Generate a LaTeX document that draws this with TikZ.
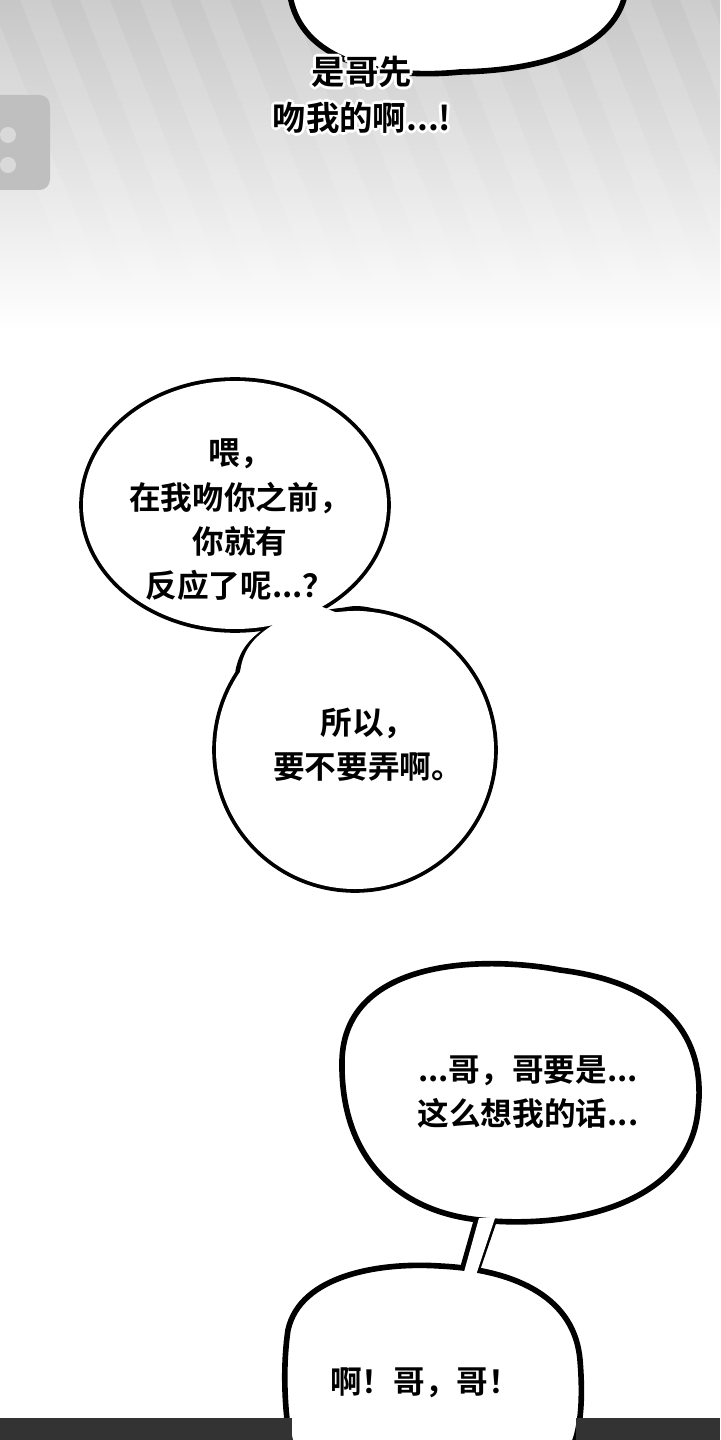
\documentclass[tikz,border=0pt]{standalone}
\usepackage{fontspec}
\newfontfamily\cjk{Noto Sans CJK SC Bold}
\tikzset{
  bubble/.style={draw=black, line width=1.6pt, fill=white},
  bubblefill/.style={fill=white},
  speech/.style={font=\cjk\fontsize{9}{12.6}\selectfont, align=center, inner sep=0pt},
  captionstyle/.style={font=\cjk\fontsize{9.5}{13}\selectfont, align=center, inner sep=0pt},
}
\begin{document}
\begin{tikzpicture}[x=0.01cm, y=-0.01cm]
    % page size
    \useasboundingbox (0,0) rectangle (720,1440);
    \fill[white] (0,0) rectangle (720,1440);

    % grey background at the top, fading out
    \shade[top color=black!22, bottom color=white] (0,0) rectangle (720,330);
    \foreach \i in {0,...,14}
        \fill[white, opacity=0.12] (\i*60-40,0) -- (\i*60-10,0) -- (\i*60+110,300) -- (\i*60+80,300) -- cycle;
    % device at the left
    \fill[black!25, rounded corners=3pt] (-10,95) rectangle (50,190);
    \fill[black!15] (8,135) circle (8);
    \fill[black!15] (8,165) circle (8);

    % top bubble, cut by the border
    \draw[bubble] (290,-5) .. controls (300,60) and (380,80) .. (460,72)
        .. controls (560,70) and (615,40) .. (625,-5);

    % caption with a white halo
    \foreach \dx/\dy in {-3/0,3/0,0/-3,0/3,-2/-2,2/2,-2/2,2/-2}
        \node[captionstyle, text=white] at (362+\dx,95+\dy) {是哥先\\吻我的啊...!};
    \node[captionstyle] (caption) at (362,95) {是哥先\\吻我的啊...!};

    % bubbles one and two, merged
    \draw[bubble] (235,505) ellipse (153 and 125);
    \draw[bubble] (355,750) ellipse (140 and 140);
    \draw[line width=1.6pt] (275,625) .. controls (250,640) and (242,652) .. (238,672);
    \draw[line width=1.6pt] (340,612) .. controls (350,608) and (360,608) .. (372,611);
    \fill[bubblefill] (235,505) ellipse (152 and 124);
    \fill[bubblefill] (355,750) ellipse (139 and 139);
    \fill[bubblefill] (276,623) .. controls (251,638) and (243,652) .. (240,672)
        -- (372,660) -- (372,613) .. controls (360,610) and (350,610) .. (340,614)
        -- (300,598) -- cycle;
    \node[speech] (q1) at (240,520) {喂，\\在我吻你之前，\\你就有\\反应了呢...？};
    \node[speech] (q2) at (368,745) {所以，\\要不要弄啊。};

    % bubble three, its tail and bubble four
    \draw[line width=1.6pt] (478,1215) -- (458,1285);
    \draw[line width=1.6pt] (496,1215) -- (472,1285);
    \draw[bubble] (342,1060) .. controls (345,960) and (480,955) .. (560,970)
        .. controls (680,985) and (705,1050) .. (698,1110)
        .. controls (690,1200) and (580,1230) .. (480,1220)
        .. controls (400,1212) and (340,1160) .. cycle;
    \draw[bubble] (288,1330) .. controls (300,1275) and (380,1262) .. (440,1266)
        .. controls (520,1270) and (575,1300) .. (580,1360)
        .. controls (585,1420) and (575,1445) .. (570,1450)
        -- (292,1450) .. controls (285,1420) and (282,1370) .. cycle;
    \fill[bubblefill] (479,1218) -- (495,1218) -- (471,1290) -- (459,1290) -- cycle;
    \node[speech] (q3) at (528,1092) {...哥，哥要是...\\这么想我的话...};
    \node[speech] (q4) at (425,1383) {啊！哥，哥！};

    % dark strip at the bottom
    \fill[black!80] (0,1418) rectangle (292,1440);
    \fill[black!80] (576,1418) rectangle (720,1440);
\end{tikzpicture}
\end{document}
